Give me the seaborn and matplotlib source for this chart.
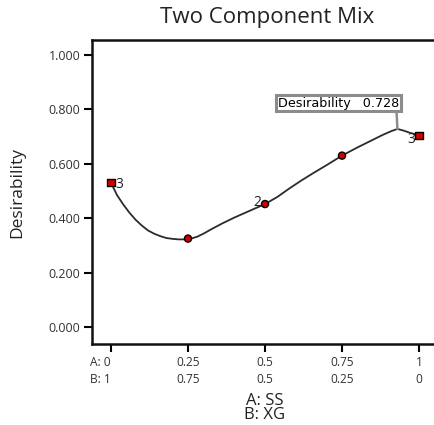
import seaborn as sns
import matplotlib.pyplot as plt
import pandas as pd

# design points (A: SS fraction) and observed desirability
design_a = [0.0, 0.25, 0.5, 0.75, 1.0]
design_d = [0.530, 0.325, 0.452, 0.630, 0.703]
design_kind = ["vertex", "mid", "mid", "mid", "vertex"]
replicates = {0: "3", 2: "2", 4: "3"}

# fitted desirability curve
curve_a = [0.0, 0.02, 0.04, 0.06, 0.08, 0.10, 0.12, 0.14, 0.16, 0.18, 0.20, 0.22,
           0.24, 0.26, 0.28, 0.30, 0.33, 0.36, 0.40, 0.44, 0.48, 0.50, 0.54, 0.58,
           0.62, 0.66, 0.70, 0.75, 0.80, 0.85, 0.88, 0.91, 0.93, 0.95, 0.97, 1.0]
curve_d = [0.530, 0.484, 0.450, 0.420, 0.394, 0.373, 0.355, 0.343, 0.334, 0.327, 0.324, 0.322,
           0.322, 0.325, 0.332, 0.343, 0.362, 0.380, 0.402, 0.422, 0.442, 0.452, 0.478, 0.510,
           0.540, 0.568, 0.595, 0.630, 0.660, 0.688, 0.705, 0.720, 0.728, 0.722, 0.714, 0.705]

tick_a = [0, 0.25, 0.5, 0.75, 1]
tick_labels = ["A: 0\nB: 1", "0.25\n0.75", "0.5\n0.5", "0.75\n0.25", "1\n0"]
y_ticks = [0.0, 0.2, 0.4, 0.6, 0.8, 1.0]

best_a, best_d = 0.93, 0.728

sns.set_style("white")
plt.rcParams["font.family"] = ["Open Sans", "DejaVu Sans"]

fig = plt.figure(figsize=(4.34, 4.25), dpi=100)
ax = fig.add_axes([92 / 434, 1 - 344 / 425, 342 / 434, 304 / 425])

curve = pd.DataFrame({"a": curve_a, "d": curve_d})
sns.lineplot(data=curve, x="a", y="d", ax=ax, color="#2b2b2b", lw=1.3, sort=False)

pts = pd.DataFrame({"a": design_a, "d": design_d, "kind": design_kind})
sns.scatterplot(data=pts, x="a", y="d", style="kind", markers={"vertex": "s", "mid": "o"},
                color="#d40000", edgecolor="black", linewidth=1.0, s=26, ax=ax,
                legend=False, zorder=5)

for i, lab in replicates.items():
    if i == 0:
        ax.annotate(lab, (design_a[i], design_d[i]), xytext=(3, -1), textcoords="offset points",
                    ha="left", va="center", fontsize=10, color="#222222")
    else:
        ax.annotate(lab, (design_a[i], design_d[i]), xytext=(-3, 1 if i == 2 else -3),
                    textcoords="offset points", ha="right", va="center",
                    fontsize=10, color="#222222")

ax.annotate(f"Desirability   {best_d:.3f}", (best_a, best_d), xytext=(1, 14),
            textcoords="offset points", ha="right", va="bottom", fontsize=9.2, color="black",
            family="DejaVu Sans",
            bbox=dict(boxstyle="square,pad=0.15", fc="white", ec="#8c8c8c", lw=2.2),
            arrowprops=dict(arrowstyle="-", color="#8c8c8c", lw=1.8, relpos=(0.98, 0),
                            shrinkA=0, shrinkB=0))

ax.set_xlim(-0.0617, 1.0487)
ax.set_ylim(-0.0625, 1.055)
ax.set_xticks(tick_a)
ax.set_xticklabels(tick_labels, fontsize=8.6, color="#333333", linespacing=1.4)
ax.set_yticks(y_ticks)
ax.set_yticklabels([f"{v:.3f}" for v in y_ticks], fontsize=9, color="#333333")
first = ax.get_xticklabels()[0]
first.set_ha("right")
first.set_x(0.008)

ax.tick_params(axis="both", which="major", length=6, width=1.5, color="black",
               direction="out", bottom=True, left=True, pad=2.5)
for side in ["left", "bottom", "top"]:
    ax.spines[side].set_color("#111111")
    ax.spines[side].set_linewidth(1.8)
ax.spines["right"].set_visible(False)

ax.set_ylabel("Desirability", fontsize=12.5, color="#222222")
ax.yaxis.set_label_coords(-0.196, 0.5)
ax.set_xlabel("A: SS\nB: XG", fontsize=12, color="#222222", linespacing=0.88)
ax.xaxis.set_label_coords(0.506, -0.160)

fig.text(267 / 434, 1 - 18 / 425, "Two Component Mix", ha="center", va="center",
         fontsize=16, color="#222222")

plt.savefig("out.png", dpi=100)
plt.close()
